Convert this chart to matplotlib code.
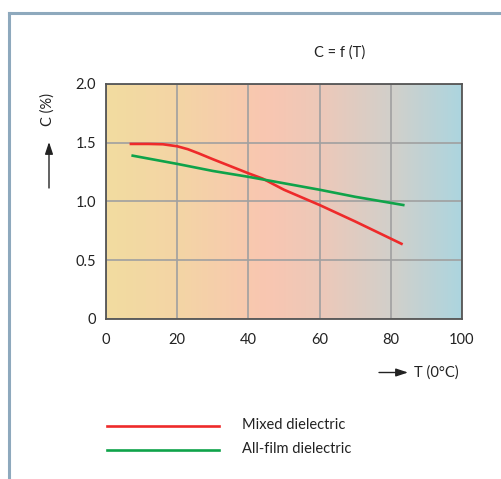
import matplotlib
matplotlib.use("Agg")
import matplotlib.pyplot as plt
import numpy as np
from matplotlib.colors import LinearSegmentedColormap
from matplotlib.lines import Line2D

plt.rcParams['font.family'] = ['Lato', 'DejaVu Sans']

# Data
temp_mixed = [7, 12, 16, 20, 23, 26, 30, 35, 40, 44, 50, 55, 60, 70, 83]
cap_mixed = [1.49, 1.49, 1.487, 1.47, 1.445, 1.41, 1.36, 1.30, 1.24, 1.195, 1.10, 1.035, 0.97, 0.83, 0.64]
temp_film = [7.5, 20, 30, 40, 50, 60, 70, 83.5]
cap_film = [1.39, 1.32, 1.26, 1.21, 1.155, 1.10, 1.04, 0.97]
xticks = [0, 20, 40, 60, 80, 100]
yticks = [0, 0.5, 1.0, 1.5, 2.0]
ytick_labels = ['0', '0.5', '1.0', '1.5', '2.0']
series_names = ['Mixed dielectric', 'All-film dielectric']
series_colors = ['#ee2a2a', '#0fa34a']

W, H = 502, 479
fig = plt.figure(figsize=(W / 100, H / 100), dpi=100)

def fx(px):
    return px / W

def fy(py):
    return 1 - py / H

# frame border (left & top)
fig.add_artist(Line2D([fx(9), fx(9)], [fy(13), 0], color='#8ea9bd', lw=2.2, transform=fig.transFigure))
fig.add_artist(Line2D([fx(9), 1.0], [fy(13), fy(13)], color='#8ea9bd', lw=2.2, transform=fig.transFigure))

ax_l, ax_r, ax_t, ax_b = 106, 462, 84, 319
ax = fig.add_axes([fx(ax_l), fy(ax_b), (ax_r - ax_l) / W, (ax_b - ax_t) / H])

cmap = LinearSegmentedColormap.from_list('bg', [
    (0.0, '#f2dca0'),
    (0.22, '#f4d4a6'),
    (0.45, '#f9c6b1'),
    (0.62, '#ebc9ba'),
    (0.82, '#cfd0cc'),
    (1.0, '#acd5df'),
])
grad = np.linspace(0, 1, 512).reshape(1, -1)
ax.imshow(grad, cmap=cmap, aspect='auto', extent=[0, 100, 0, 2.0], zorder=0)

ax.set_xlim(0, 100)
ax.set_ylim(0, 2.0)
ax.set_xticks(xticks)
ax.set_yticks(yticks)
ax.set_yticklabels(ytick_labels)
ax.grid(True, color='#a0a0a0', lw=1.2, zorder=1)
ax.tick_params(length=0, labelsize=10.5, colors='#222222')
ax.tick_params(axis='x', pad=10)
ax.tick_params(axis='y', pad=7)
for s in ax.spines.values():
    s.set_color('#555555')
    s.set_linewidth(1.3)
    s.set_zorder(3)

ax.plot(temp_mixed, cap_mixed, color=series_colors[0], lw=1.9, zorder=2)
ax.plot(temp_film, cap_film, color=series_colors[1], lw=1.9, zorder=2)

# title
fig.text(fx(340), fy(53), 'C = f (T)', ha='center', va='center', fontsize=10.5, color='#222222')

# y axis label with arrow
fig.text(fx(48), fy(110), 'C (%)', rotation=90, ha='center', va='center', fontsize=10.5, color='#222222')
arrow_style = '-|>,head_length=0.9,head_width=0.3'
fig.add_artist(matplotlib.patches.FancyArrowPatch((fx(49), fy(188)), (fx(49), fy(142)),
               transform=fig.transFigure, arrowstyle=arrow_style,
               mutation_scale=8, color='#222222', lw=1, shrinkA=0, shrinkB=0))

# x axis label with arrow
fig.add_artist(matplotlib.patches.FancyArrowPatch((fx(379), fy(372.5)), (fx(408), fy(372.5)),
               transform=fig.transFigure, arrowstyle=arrow_style,
               mutation_scale=8, color='#222222', lw=1, shrinkA=0, shrinkB=0))
fig.text(fx(414), fy(372.5), 'T (0°C)', ha='left', va='center', fontsize=10.5, color='#222222')

# legend
for i, (name, col) in enumerate(zip(series_names, series_colors)):
    yy = [425.7, 450][i]
    fig.add_artist(Line2D([fx(107), fx(219)], [fy(yy), fy(yy)], color=col, lw=1.9, transform=fig.transFigure))
    fig.text(fx(242), fy(yy - 1), name, ha='left', va='center', fontsize=10.5, color='#222222')

fig.savefig('out.png', dpi=100)
